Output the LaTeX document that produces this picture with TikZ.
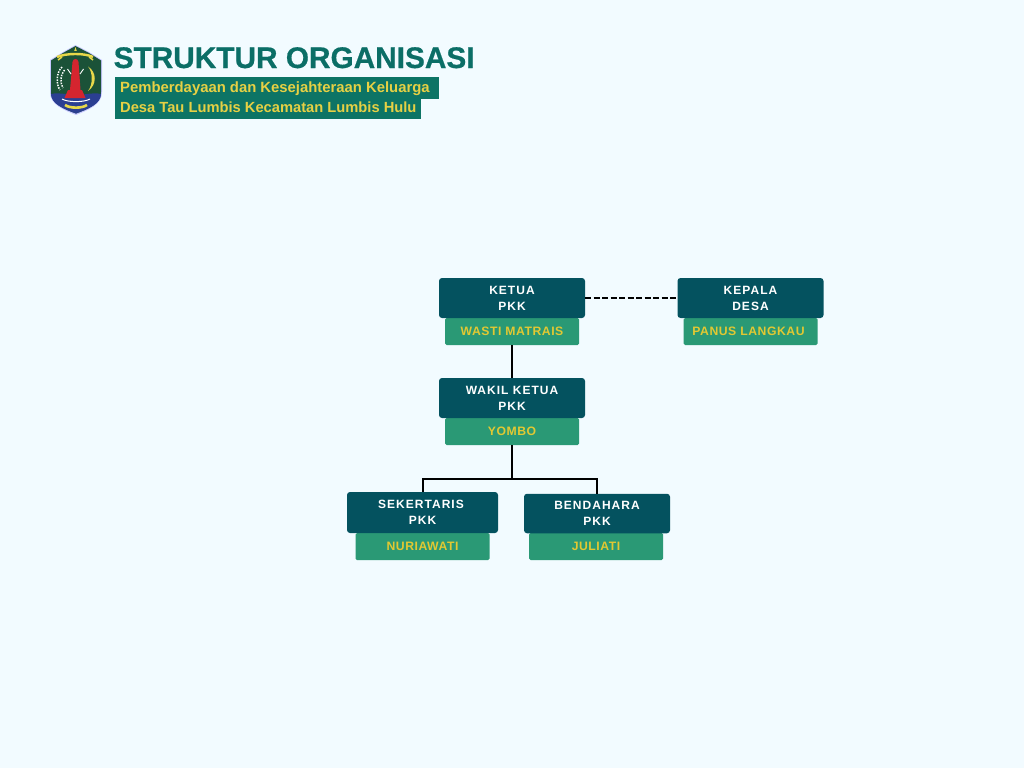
\documentclass[tikz,border=0pt]{standalone}
\usepackage{fontspec}
\setmainfont{Liberation Sans}
\newfontfamily\spacedfont[LetterSpace=8.5]{Liberation Sans}
\newfontfamily\lightspaced[LetterSpace=4.5]{Liberation Sans}
\newfontfamily\titlefont[BoldFont={Liberation Sans Bold},BoldFeatures={FakeBold=0.6}]{Liberation Sans}
\definecolor{pagebg}{HTML}{F2FBFF}
\definecolor{darkbox}{HTML}{04525F}
\definecolor{greenbox}{HTML}{2A9975}
\definecolor{goldtext}{HTML}{E2C832}
\definecolor{titlecol}{HTML}{0B6E66}
\definecolor{subbar}{HTML}{0D7465}
\definecolor{subtext}{HTML}{E6D044}
\definecolor{shieldgreen}{HTML}{1B5238}
\definecolor{shieldblue}{HTML}{2B3F92}
\definecolor{beacon}{HTML}{D5252F}
\definecolor{ribbon}{HTML}{E8D84A}
\tikzset{
  x=1pt,y=-1pt,
  rolebox/.style={fill=darkbox,rounded corners=3pt,inner sep=0pt,text=white,align=center,
    font=\spacedfont\bfseries\fontsize{12}{16}\selectfont},
  namebox/.style={fill=greenbox,rounded corners=1.5pt,inner sep=0pt,text=goldtext,align=center,
    font=\lightspaced\bfseries\fontsize{12.2}{14}\selectfont,minimum width=134pt,minimum height=27pt},
  wire/.style={draw=black,line width=2pt},
  dashwire/.style={draw=black,line width=2pt,dash pattern=on 6pt off 2.5pt},
  subbarbox/.style={fill=subbar,inner sep=0pt,anchor=north west},
  subtitletext/.style={text=subtext,inner sep=0pt,anchor=base west,font=\bfseries\fontsize{14.85}{16}\selectfont},
}
\begin{document}
\begin{tikzpicture}
\useasboundingbox (0,0) rectangle (1024,768);
\fill[pagebg] (0,0) rectangle (1024,768);

% emblem
\fill[fill=blue!22!white] (50,60) -- (63,52) -- (75.5,45) -- (89,52) -- (102,60) -- (102,92)
  .. controls (102,105) and (88,110) .. (76,115) .. controls (64,110) and (50,105) .. (50,92) -- cycle;
\fill[shieldgreen] (51,60.5) -- (63,53) -- (75.5,46) -- (89,53) -- (101,60.5) -- (101,92)
  .. controls (101,104) and (88,109) .. (76,113.5) .. controls (64,109) and (51,104) .. (51,92) -- cycle;
\fill[shieldblue] (51,94) .. controls (60,92) and (66,95) .. (76,95) .. controls (86,95) and (92,92) .. (101,94)
  .. controls (101,104) and (88,109) .. (76,113.5) .. controls (64,109) and (51,104) .. (51,94) -- cycle;
\fill[ribbon] (75.5,47) -- (76.8,51) -- (74.2,51) -- cycle;
\draw[ribbon,line width=2.4pt] (57,57) .. controls (66,53) and (85,53) .. (93,57);
\draw[ribbon,line width=1.5pt] (58,60) -- (62,57) (93,60) -- (89,57);
\fill[beacon] (72.5,62) .. controls (73,58) and (78,58) .. (78.5,62) -- (80.5,90) -- (70,90) -- cycle;
\fill[beacon] (68,90) -- (82,90) -- (85.5,98) -- (64.5,98) -- cycle;
\draw[white,line width=.9pt] (71,74) -- (67.5,69) (80,74) -- (83.5,69);
\draw[white,line width=1.5pt,dash pattern=on 1.5pt off 1.2pt] (62,67) .. controls (56,73) and (56,84) .. (60,90);
\draw[white,line width=1.5pt,dash pattern=on 1.5pt off 1.2pt] (64.5,70) .. controls (60,75) and (60,83) .. (63,88);
\fill[ribbon] (88,66.5) .. controls (97,72) and (97,85) .. (88,91) .. controls (93,85) and (93,72) .. (88,66.5) -- cycle;
\draw[white,line width=1pt] (62,99) .. controls (68,102.5) and (84,102.5) .. (90,99);
\draw[ribbon,line width=2.6pt] (65,105) .. controls (70,108.5) and (82,108.5) .. (87,105);

% title
\node (title) [text=titlecol,inner sep=0pt,anchor=base west,font=\titlefont\bfseries\fontsize{29.8}{32}\selectfont] at (113.5,68) {STRUKTUR ORGANISASI};
\node (bara) [subbarbox,minimum width=324pt,minimum height=22pt] at (114.5,76.5) {};
\node (barb) [subbarbox,minimum width=306.5pt,minimum height=21pt] at (114.5,98) {};
\node (suba) [subtitletext] at (120,92) {Pemberdayaan dan Kesejahteraan Keluarga};
\node (subb) [subtitletext,font=\bfseries\fontsize{14.7}{16}\selectfont] at (120,112) {Desa Tau Lumbis Kecamatan Lumbis Hulu};

% name plates
\node (ketuaname) [namebox] at (512,331.5) {WASTI MATRAIS};
\node (kepalaname) [namebox] at (750.5,331.5) {\hspace*{-3pt}PANUS LANGKAU\hspace*{1pt}};
\node (wakilname) [namebox] at (512,431.5) {YOMBO};
\node (sekname) [namebox] at (422.5,546.5) {NURIAWATI};
\node (benname) [namebox] at (596,546.5) {JULIATI};

% role boxes
\node (ketua) [rolebox,minimum width=146pt,minimum height=40pt] at (512,298) {KETUA\\PKK};
\node (kepala) [rolebox,minimum width=146pt,minimum height=40pt] at (750.5,298) {KEPALA\\DESA};
\node (wakil) [rolebox,minimum width=146pt,minimum height=40pt] at (512,398) {WAKIL KETUA\\PKK};
\node (sek) [rolebox,minimum width=151pt,minimum height=41pt] at (422.5,512.5) {SEKERTARIS\hspace*{3pt}\\PKK};
\node (ben) [rolebox,minimum width=146pt,minimum height=39.5pt] at (597,513.5) {BENDAHARA\\PKK};

% connectors
\coordinate (bus) at (512,478.5);
\draw[dashwire] (ketua.east) -- (kepala.west);
\draw[wire] (ketuaname.south) -- (wakil.north);
\draw[wire] (wakilname.south) -- (bus);
\draw[wire] (sek.north) |- (bus) -| (ben.north);
\end{tikzpicture}
\end{document}
